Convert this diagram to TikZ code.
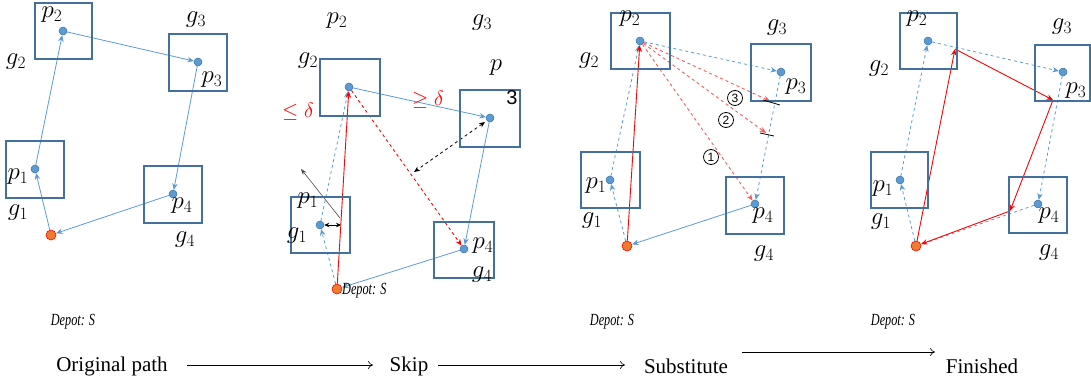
\documentclass[tikz,border=0pt]{standalone}
\usepackage{fontspec}
\setmainfont{Liberation Serif}
\newfontfamily\lsans{Liberation Sans}
\usetikzlibrary{arrows.meta}
\definecolor{boxc}{RGB}{65,113,156}
\definecolor{bluec}{RGB}{91,155,213}
\definecolor{depc}{RGB}{237,125,49}
\pgfdeclarelayer{bg}\pgfsetlayers{bg,main}
\tikzset{
  box/.style={draw=boxc, line width=1.5pt},
  dot/.style={circle, fill=bluec, draw=boxc, line width=0.5pt, minimum size=8pt, inner sep=0pt},
  depot/.style={circle, fill=depc, draw=red, line width=0.6pt, minimum size=10pt, inner sep=0pt},
  lab/.style={font=\fontsize{26}{26}\selectfont, inner sep=0pt},
  bl/.style={draw=bluec, line width=0.8pt, -{Stealth[length=6.5pt,width=5.5pt]}},
  bld/.style={bl, dashed},
  rd/.style={draw=red, line width=0.9pt, -{Stealth[length=6.5pt,width=5.5pt]}},
  rdd/.style={rd, dashed},
  rdl/.style={rdd, draw=red!65},
  dep/.style={font=\itshape\fontsize{17}{17}\selectfont, inner sep=0pt},
  steptext/.style={font=\fontsize{21}{21}\selectfont, inner sep=0pt},
  flow/.style={draw=black, line width=0.6pt, -{To[length=5pt,width=8pt]}},
  delta/.style={text=red, font=\fontsize{21}{21}\selectfont, inner sep=0pt},
  circ/.style={circle, draw=black, line width=0.8pt, minimum size=15pt, inner sep=0pt, font=\lsans\fontsize{12}{12}\selectfont}
}
\begin{document}
\begin{tikzpicture}[x=1pt,y=-1pt]
\useasboundingbox (0,0) rectangle (1091,388);

%% ---------------- Panel 1: Original path ----------------
\draw[box] (35,3) rectangle (92,59);
\draw[box] (169,34) rectangle (227,91);
\draw[box] (6,141) rectangle (64,198);
\draw[box] (144,166) rectangle (202,223);
\node[dot] (a2) at (63,31) {};
\node[dot] (a3) at (198,62) {};
\node[dot] (a1) at (35,169) {};
\node[dot] (a4) at (173,194) {};
\node[depot] (aD) at (51,235) {};
\node[lab] (ap2) at (52,15) {$p_2$};
\node[lab] (ag2) at (16,62) {$g_2$};
\node[lab] (ap3) at (212,80) {$p_3$};
\node[lab] (ag3) at (196,20) {$g_3$};
\node[lab] (ap1) at (18,177) {$p_1$};
\node[lab] (ag1) at (18,213) {$g_1$};
\node[lab] (ap4) at (182,206) {$p_4$};
\node[lab] (ag4) at (185,240) {$g_4$};
\node[dep] (aDl) at (73,322) {\scalebox{0.72}[1]{Depot: S}};
\begin{pgfonlayer}{bg}
\draw[bl] (aD) -- (a1);
\draw[bl] (a1) -- (a2);
\draw[bl] (a2) -- (a3);
\draw[bl] (a3) -- (a4);
\draw[bl] (a4) -- (aD);
\end{pgfonlayer}

%% ---------------- Panel 2: Skip ----------------
\draw[box] (320,59) rectangle (380,116);
\draw[box] (460,90) rectangle (520,147);
\draw[box] (291,197) rectangle (350,253);
\draw[box] (434,222) rectangle (494,278);
\node[dot] (b2) at (349,87) {};
\node[dot] (b3) at (490,118) {};
\node[dot] (b1) at (320,225) {};
\node[dot] (b4) at (464,249) {};
\node[depot] (bD) at (337,289) {};
\node[lab] (bp2) at (337,21) {$p_2$};
\node[lab] (bg2) at (308,61) {$g_2$};
\node[lab] (bg3) at (482,23) {$g_3$};
\node[lab] (bp3a) at (496,68) {$p$};
\node[font=\lsans\fontsize{20}{20}\selectfont, inner sep=0pt] (bp3b) at (512,98) {3};
\node[lab] (bp1) at (308,201) {$p_1$};
\node[lab] (bg1) at (297,236) {$g_1$};
\node[lab] (bp4) at (483,246) {$p_4$};
\node[lab] (bg4) at (482,275) {$g_4$};
\node[dep, anchor=west] (bDl) at (342,291) {\scalebox{0.72}[1]{Depot: S}};
\node[delta] (ble) at (298,112) {$\leq\delta$};
\node[delta] (bge) at (428,100) {$\geq\delta$};
\coordinate (bc1) at (341,225);
\coordinate (bn1) at (340,218);
\coordinate (bn2) at (301,169);
\coordinate (bm) at (414,172);
\coordinate (bm3) at (485,122);
\begin{pgfonlayer}{bg}
\draw[bld] (bD) -- (b1);
\draw[bld] (b1) -- (b2);
\draw[rd] (bD) -- (b2);
\draw[bl] (b2) -- (b3);
\draw[bl] (b3) -- (b4);
\draw[bl] (b4) -- (bD);
\draw[rdd] (b2) -- (b4);
\draw[black, dashed, line width=0.8pt, {Stealth[length=6pt,width=5pt]}-{Stealth[length=6pt,width=5pt]}] (bm3) -- (bm);
\draw[black!70, line width=0.6pt, -{Stealth[length=6pt,width=4.5pt]}] (bn1) -- (bn2);
\draw[black, line width=0.8pt, {Stealth[length=5pt,width=4.5pt]}-{Stealth[length=5pt,width=4.5pt]}] (b1) -- (bc1);
\end{pgfonlayer}

%% ---------------- Panel 3: Substitute ----------------
\draw[box] (611,13) rectangle (670,69);
\draw[box] (751,44) rectangle (811,101);
\draw[box] (581,152) rectangle (640,208);
\draw[box] (726,177) rectangle (784,234);
\node[dot] (c2) at (640,41) {};
\node[dot] (c3) at (781,72) {};
\node[dot] (c1) at (610,180) {};
\node[dot] (c4) at (755,204) {};
\node[depot] (cD) at (627,246) {};
\node[lab] (cp2) at (630,19) {$p_2$};
\node[lab] (cg2) at (589,61) {$g_2$};
\node[lab] (cp3) at (796,87) {$p_3$};
\node[lab] (cg3) at (777,28) {$g_3$};
\node[lab] (cp1) at (596,186) {$p_1$};
\node[lab] (cg1) at (592,221) {$g_1$};
\node[lab] (cp4) at (763,216) {$p_4$};
\node[lab] (cg4) at (764,254) {$g_4$};
\node[dep] (cDl) at (612,322) {\scalebox{0.72}[1]{Depot: S}};
\coordinate (ct2) at (766,133);
\coordinate (ct3) at (770,101);
\node[circ] (cn3) at (735,98) {3};
\node[circ] (cn2) at (726,120) {2};
\node[circ] (cn1) at (711,157) {1};
\draw[black, line width=0.8pt] (763,100) -- (780,105);
\draw[black, line width=0.8pt] (760,133) -- (774,136);
\begin{pgfonlayer}{bg}
\draw[bld] (cD) -- (c1);
\draw[bld] (c1) -- (c2);
\draw[rd] (cD) -- (c2);
\draw[bld] (c2) -- (c3);
\draw[bld] (c3) -- (c4);
\draw[bl] (c4) -- (cD);
\draw[rdl] (c2) -- (c4);
\draw[rdl] (c2) -- (ct2);
\draw[rdl] (c2) -- (ct3);
\end{pgfonlayer}

%% ---------------- Panel 4: Finished ----------------
\draw[box] (900,13) rectangle (957,69);
\draw[box] (1035,45) rectangle (1090,101);
\draw[box] (871,152) rectangle (928,208);
\draw[box] (1009,177) rectangle (1067,233);
\node[dot] (d2) at (928,41) {};
\node[dot] (d3) at (1063,72) {};
\node[dot] (d1) at (900,180) {};
\node[dot] (d4) at (1038,204) {};
\node[depot] (dD) at (916,246) {};
\node[lab] (dp2) at (917,19) {$p_2$};
\node[lab] (dg2) at (879,69) {$g_2$};
\node[lab] (dp3) at (1076,91) {$p_3$};
\node[lab] (dg3) at (1062,27) {$g_3$};
\node[lab] (dp1) at (883,189) {$p_1$};
\node[lab] (dg1) at (881,222) {$g_1$};
\node[lab] (dp4) at (1049,216) {$p_4$};
\node[lab] (dg4) at (1049,253) {$g_4$};
\node[dep] (dDl) at (893,322) {\scalebox{0.72}[1]{Depot: S}};
\coordinate (q1) at (955,49);
\coordinate (q2) at (1053,100);
\coordinate (q3) at (1010,211);
\begin{pgfonlayer}{bg}
\draw[bld] (dD) -- (d1);
\draw[bld] (d1) -- (d2);
\draw[bld] (d2) -- (d3);
\draw[bld] (d3) -- (d4);
\draw[bluec, dashed, line width=0.8pt] (d4) -- (dD);
\draw[rd] (dD) -- (q1);
\draw[rd] (q1) -- (q2);
\draw[rd] (q2) -- (q3);
\draw[rd] (q3) -- (dD);
\end{pgfonlayer}

%% ---------------- Bottom flow ----------------
\node[steptext] (s1) at (112,366) {Original path};
\node[steptext] (s2) at (409,366) {Skip};
\node[steptext] (s3) at (686,366) {Substitute};
\node[steptext] (s4) at (982,366) {Finished};
\draw[flow] (187,365) coordinate (f1a) -- (373,365) coordinate (f1b);
\draw[flow] (438,365) coordinate (f2a) -- (625,365) coordinate (f2b);
\draw[flow] (742,352) coordinate (f3a) -- (935,352) coordinate (f3b);
\end{tikzpicture}
\end{document}
